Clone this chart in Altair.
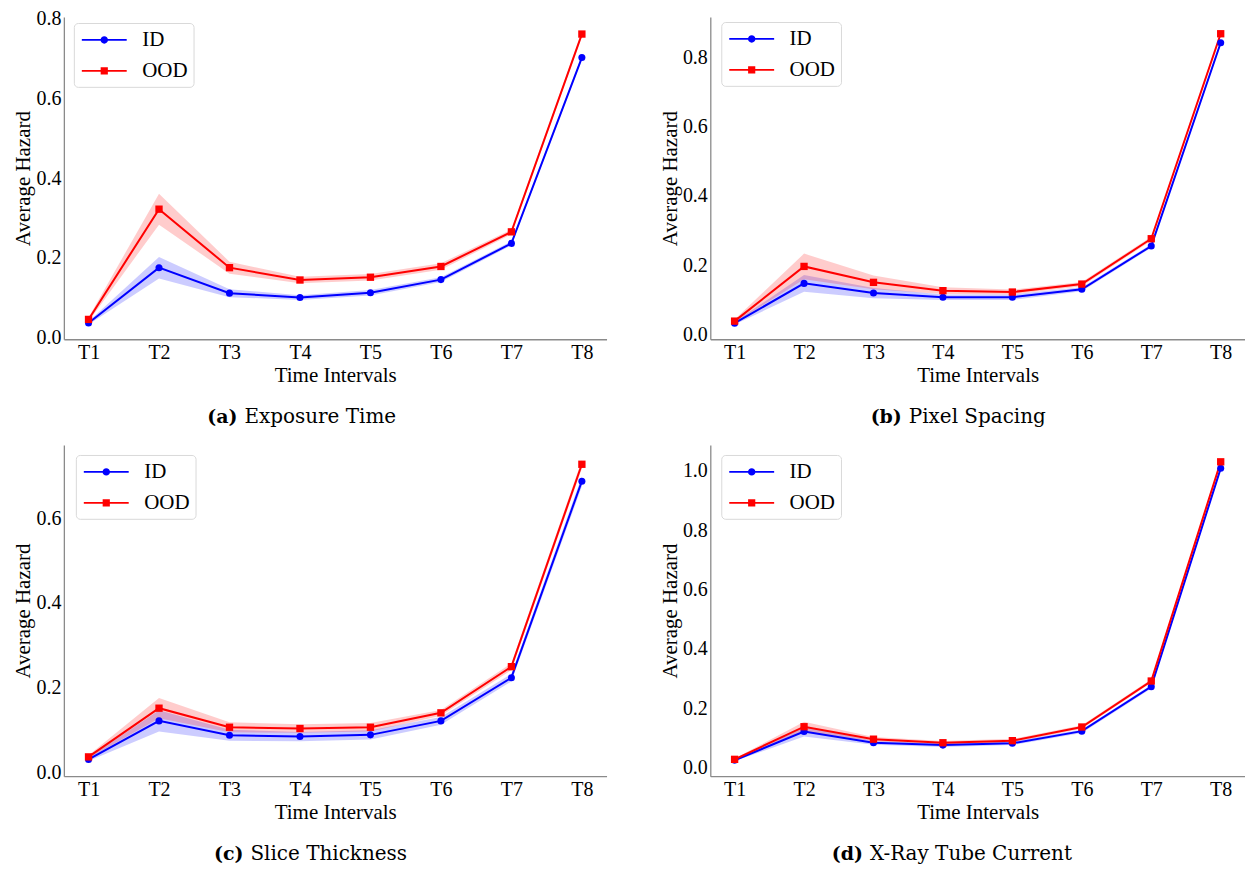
import altair as alt
import pandas as pd

# ---------------- data ----------------
intervals = ["T1", "T2", "T3", "T4", "T5", "T6", "T7", "T8"]
series_names = ["ID", "OOD"]
series_colors = ["#0000ff", "#ff0000"]

panel_tags = ["(a)", "(b)", "(c)", "(d)"]
panel_captions = ["Exposure Time", "Pixel Spacing", "Slice Thickness", "X-Ray Tube Current"]

# (a) Exposure Time
expo_id_mean = [0.036, 0.175, 0.111, 0.100, 0.112, 0.145, 0.236, 0.703]
expo_id_err = [0.004, 0.027, 0.010, 0.006, 0.007, 0.006, 0.005, 0.005]
expo_ood_mean = [0.045, 0.322, 0.175, 0.144, 0.151, 0.178, 0.265, 0.762]
expo_ood_err = [0.005, 0.039, 0.015, 0.008, 0.008, 0.008, 0.006, 0.006]

# (b) Pixel Spacing
pix_id_mean = [0.032, 0.147, 0.119, 0.107, 0.107, 0.130, 0.255, 0.842]
pix_id_err = [0.004, 0.024, 0.015, 0.008, 0.008, 0.006, 0.005, 0.005]
pix_ood_mean = [0.038, 0.196, 0.150, 0.126, 0.122, 0.145, 0.276, 0.868]
pix_ood_err = [0.005, 0.037, 0.020, 0.010, 0.007, 0.006, 0.006, 0.006]

# (c) Slice Thickness
slice_id_mean = [0.030, 0.121, 0.087, 0.084, 0.088, 0.121, 0.223, 0.687]
slice_id_err = [0.004, 0.025, 0.013, 0.011, 0.011, 0.009, 0.009, 0.012]
slice_ood_mean = [0.036, 0.151, 0.106, 0.103, 0.106, 0.140, 0.249, 0.727]
slice_ood_err = [0.004, 0.024, 0.012, 0.010, 0.010, 0.007, 0.008, 0.010]

# (d) X-Ray Tube Current
xray_id_mean = [0.024, 0.121, 0.083, 0.075, 0.081, 0.122, 0.272, 1.008]
xray_id_err = [0.003, 0.017, 0.007, 0.006, 0.006, 0.006, 0.006, 0.006]
xray_ood_mean = [0.027, 0.137, 0.095, 0.083, 0.090, 0.136, 0.291, 1.030]
xray_ood_err = [0.003, 0.017, 0.007, 0.006, 0.006, 0.006, 0.006, 0.006]

yticks_a = [0.0, 0.2, 0.4, 0.6, 0.8]
yticks_b = [0.0, 0.2, 0.4, 0.6, 0.8]
yticks_c = [0.0, 0.2, 0.4, 0.6]
yticks_d = [0.0, 0.2, 0.4, 0.6, 0.8, 1.0]

SERIF = "Liberation Serif"
CAPTION_FONT = "DejaVu Serif"

# legend symbols: a line segment with the marker in its middle
legend_paths = [
    "M-2.25,0L2.25,0M0.28,0A0.28,0.28,0,1,1,-0.28,0A0.28,0.28,0,1,1,0.28,0Z",
    "M-2.25,0L2.25,0M-0.27,-0.27L0.27,-0.27L0.27,0.27L-0.27,0.27Z",
]


def make_panel(id_mean, id_err, ood_mean, ood_err, yticks, tag, caption,
               width, height, caption_x, legend_x, legend_y):
    rows = []
    for name, means, errs in (("ID", id_mean, id_err), ("OOD", ood_mean, ood_err)):
        for t, m, e in zip(intervals, means, errs):
            rows.append({"interval": t, "series": name, "mean": m,
                         "lo": m - e, "hi": m + e})
    df = pd.DataFrame(rows)
    lo_min = float(df["lo"].min())
    hi_max = float(df["hi"].max())
    r = hi_max - lo_min
    dom = [lo_min - 0.05 * r, hi_max + 0.05 * r]

    xenc = alt.X("interval:N", sort=intervals,
                 scale=alt.Scale(type="point", padding=0.35),
                 axis=alt.Axis(title="Time Intervals", labelAngle=0))
    yscale = alt.Scale(domain=dom, nice=False, zero=False)
    yaxis = alt.Axis(title="Average Hazard", values=yticks, format=".1f")
    # data-driven domain (ID, OOD) so this scale stays separate from the legend's
    cscale = alt.Scale(range=series_colors)
    color = alt.Color("series:N", scale=cscale, legend=None)

    base = alt.Chart(df)
    band = base.mark_area(opacity=0.2).encode(
        x=xenc, y=alt.Y("lo:Q", scale=yscale, axis=yaxis), y2="hi:Q", color=color)
    line = base.mark_line(strokeWidth=2).encode(
        x=xenc, y=alt.Y("mean:Q", scale=yscale, axis=yaxis), color=color)
    pts_id = base.transform_filter(alt.datum.series == "ID").mark_point(
        filled=True, shape="circle", size=50, opacity=1).encode(
        x=xenc, y=alt.Y("mean:Q", scale=yscale, axis=yaxis), color=color)
    pts_ood = base.transform_filter(alt.datum.series == "OOD").mark_point(
        filled=True, shape="square", size=54, opacity=1).encode(
        x=xenc, y=alt.Y("mean:Q", scale=yscale, axis=yaxis), color=color)

    leg = alt.Legend(title=None, orient="none", legendX=legend_x, legendY=legend_y,
                     padding=6, strokeColor="#d9d9d9", fillColor="white",
                     cornerRadius=4, symbolSize=400, symbolStrokeWidth=1.8,
                     symbolOffset=13.5, labelOffset=27, rowPadding=10,
                     symbolOpacity=1, labelFont=SERIF, labelFontSize=21,
                     labelColor="black")
    legend_layer = base.transform_filter("false").mark_point(
        filled=True, strokeWidth=1.8).encode(
        fill=alt.Fill("series:N", scale=alt.Scale(domain=series_names, range=series_colors), legend=leg),
        stroke=alt.Stroke("series:N", scale=alt.Scale(domain=series_names, range=series_colors), legend=leg),
        shape=alt.Shape("series:N", scale=alt.Scale(domain=series_names, range=legend_paths), legend=leg),
    )

    tag_layer = alt.Chart(pd.DataFrame({"t": [tag]})).mark_text(
        font=CAPTION_FONT, fontSize=19, fontWeight="bold", align="right",
        baseline="middle", color="black").encode(
        x=alt.value(caption_x - 3), y=alt.value(height + 78), text="t:N")
    cap_layer = alt.Chart(pd.DataFrame({"t": [caption]})).mark_text(
        font=CAPTION_FONT, fontSize=20, align="left",
        baseline="middle", color="black").encode(
        x=alt.value(caption_x + 4), y=alt.value(height + 78), text="t:N")

    return alt.layer(band, line, pts_id, pts_ood, legend_layer, tag_layer, cap_layer).properties(
        width=width, height=height)


pa = make_panel(expo_id_mean, expo_id_err, expo_ood_mean, expo_ood_err, yticks_a,
                panel_tags[0], panel_captions[0], 544, 323, 177, 10, 6)
pb = make_panel(pix_id_mean, pix_id_err, pix_ood_mean, pix_ood_err, yticks_b,
                panel_tags[1], panel_captions[1], 536, 323, 195, 11, 5)
pc = make_panel(slice_id_mean, slice_id_err, slice_ood_mean, slice_ood_err, yticks_c,
                panel_tags[2], panel_captions[2], 544, 332, 183, 12, 10)
pd_ = make_panel(xray_id_mean, xray_id_err, xray_ood_mean, xray_ood_err, yticks_d,
                 panel_tags[3], panel_captions[3], 536, 332, 156, 11, 10)

indep = dict(color="independent", fill="independent", stroke="independent", shape="independent")

chart = alt.concat(pa, pb, pc, pd_, columns=2, bounds="flush",
                   spacing={"row": 106, "column": 104}).resolve_scale(**indep).resolve_legend(**indep).properties(
    padding={"left": 5, "top": -1, "right": 0, "bottom": 0},
    background="white",
).configure_view(strokeWidth=0).configure_axis(
    labelFont=SERIF, labelFontSize=20, labelColor="black",
    titleFont=SERIF, titleFontSize=21, titleFontWeight="normal", titleColor="black",
    domainColor="#8a8a8a", domainWidth=1.3, ticks=False, grid=False,
    labelPadding=3, titlePadding=2,
)

chart.save("out.html", embed_options={"renderer": "svg", "actions": False})
